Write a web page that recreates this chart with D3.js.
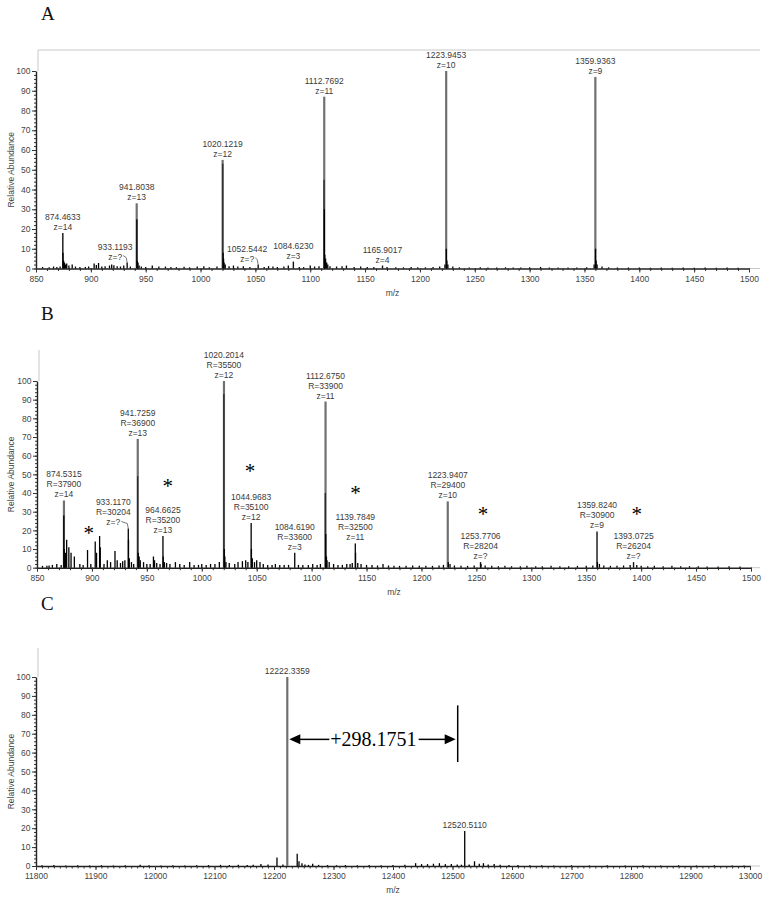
<!DOCTYPE html>
<html>
<head>
<meta charset="utf-8">
<script src="https://cdn.jsdelivr.net/npm/d3@7"></script>
<style>
  body { margin: 0; background: #fff; }
</style>
</head>
<body>
<div id="chart"></div>
<script>
// ---- data ----

// Panel A: labelled peaks
const apexMzA  = [874.4633, 933.1193, 941.8038, 1020.1219, 1052.5442, 1084.6230, 1112.7692, 1165.9017, 1223.9453, 1359.9363];
const apexIntA = [18, 3, 33, 55, 2, 3.5, 87, 1.5, 100, 97];
const apexTextA = [
  ["874.4633", "z=14"], ["933.1193", "z=?"], ["941.8038", "z=13"], ["1020.1219", "z=12"],
  ["1052.5442", "z=?"], ["1084.6230", "z=3"], ["1112.7692", "z=11"], ["1165.9017", "z=4"],
  ["1223.9453", "z=10"], ["1359.9363", "z=9"]
];
// Panel A: isotope clusters and baseline peaks
const minorMzA = [874.6, 875.2, 876, 877, 941.95, 942.4, 943, 944, 1020.25, 1020.6, 1021, 1021.5, 1022.5,
  1112.6, 1112.9, 1113.3, 1114, 1115, 1116, 1224.1, 1224.6, 1225.5, 1222.8, 1360.1, 1360.6, 1361.5, 1358.8,
  856, 862, 866, 869, 872, 878, 880, 883, 886, 890, 895, 898, 903, 905, 907, 910, 913, 917, 919, 921, 924, 927, 930,
  936, 946, 950, 956, 962, 968, 973, 978, 985, 990, 997, 1003, 1008, 1015, 1026, 1030, 1034, 1039, 1045, 1058,
  1062, 1066, 1070, 1076, 1080, 1090, 1094, 1100, 1104, 1108, 1118, 1124, 1129, 1133, 1140, 1146, 1152, 1158,
  1170, 1178, 1185, 1192, 1198, 1205, 1212, 1218, 1230, 1236, 1245, 1255, 1262, 1270, 1278, 1285, 1292, 1300,
  1310, 1318, 1326, 1335, 1343, 1352, 1366, 1372, 1380, 1390, 1400, 1410, 1420, 1430, 1440, 1450, 1460, 1470, 1480, 1490];
const minorIntA = [8, 4, 3, 2, 25, 4, 3, 1.5, 53, 8, 5, 3, 2,
  45, 30, 7, 5, 3, 2, 10, 4, 2, 2, 10, 4, 2, 2,
  0.8, 0.6, 1, 0.7, 1, 2.5, 1.5, 2, 1, 0.7, 0.8, 1, 2.5, 1.8, 2.8, 1, 1.2, 1.5, 2, 1.6, 1.2, 1, 1.5,
  1, 1, 0.8, 1.5, 1, 1, 0.8, 0.7, 0.9, 0.6, 1, 1.2, 0.6, 1, 1.2, 1.5, 1, 1.2, 0.8, 0.7,
  1.2, 1, 0.8, 1, 1.5, 0.8, 0.7, 1.5, 1, 1.2, 1.2, 1, 1.2, 1.5, 0.8, 1, 0.8, 0.7,
  0.8, 0.6, 0.6, 0.8, 0.6, 0.6, 0.7, 1, 1, 0.6, 0.5, 0.6, 0.5, 0.5, 0.6, 0.5, 0.5, 0.6,
  0.8, 0.5, 0.5, 0.5, 0.5, 0.6, 1, 0.6, 0.5, 0.5, 0.5, 0.4, 0.5, 0.4, 0.5, 0.4, 0.5, 0.4, 0.5, 0.4];

// Panel B: labelled peaks
const apexMzB  = [874.5315, 933.1170, 941.7259, 964.6625, 1020.2014, 1044.9683, 1084.6190, 1112.6750, 1139.7849, 1223.9407, 1253.7706, 1359.8240, 1393.0725];
const apexIntB = [36, 21, 69, 17, 100, 24, 8, 89, 13, 35.5, 3, 19.4, 3];
const apexTextB = [
  ["874.5315", "R=37900", "z=14"], ["933.1170", "R=30204", "z=?"], ["941.7259", "R=36900", "z=13"],
  ["964.6625", "R=35200", "z=13"], ["1020.2014", "R=35500", "z=12"], ["1044.9683", "R=35100", "z=12"],
  ["1084.6190", "R=33600", "z=3"], ["1112.6750", "R=33900", "z=11"], ["1139.7849", "R=32500", "z=11"],
  ["1223.9407", "R=29400", "z=10"], ["1253.7706", "R=28204", "z=?"], ["1359.8240", "R=30900", "z=9"],
  ["1393.0725", "R=26204", "z=?"]
];
const minorMzB = [874.4, 874.8, 875.3, 876, 877, 879, 881, 884, 855, 859, 861, 864, 868, 872, 889, 892, 896, 899,
  903, 904.2, 907, 907.6, 911, 914, 917, 921, 923, 926, 928, 930, 933.3, 934, 936, 938, 941.6, 942.2, 943, 944,
  947, 950, 953, 956, 957, 959, 962, 964.9, 966, 968, 971, 976, 980, 984, 989, 993, 997, 1000, 1004, 1008, 1012,
  1016, 1020.1, 1020.5, 1021, 1022, 1025, 1030, 1033, 1037, 1040, 1042, 1045.2, 1046, 1048, 1050, 1053, 1056,
  1060, 1064, 1067, 1071, 1075, 1079, 1088, 1092, 1097, 1101, 1105, 1108, 1112.5, 1112.9, 1113.5, 1114, 1116,
  1120, 1124, 1128, 1132, 1135, 1137, 1140, 1142, 1145, 1150, 1155, 1160, 1165, 1170, 1175, 1180, 1186, 1192,
  1198, 1204, 1210, 1216, 1220, 1224.4, 1226, 1230, 1236, 1242, 1248, 1254.2, 1258, 1264, 1270, 1276, 1282,
  1290, 1296, 1304, 1310, 1318, 1326, 1334, 1342, 1350, 1356, 1360.2, 1362, 1366, 1372, 1378, 1384, 1390,
  1396, 1400, 1406, 1412, 1420, 1428, 1436, 1444, 1452, 1460, 1470, 1480, 1490];
const minorIntB = [28, 10, 6, 8, 15, 11, 8, 6, 1, 1, 1.2, 1.5, 2, 1.5, 2, 1.5, 9.5, 2,
  14, 8, 17, 11, 2, 4, 3, 9, 4, 2.5, 3.5, 4, 15, 5, 3, 2, 49, 8, 6, 4,
  3, 2, 2, 6, 4, 2.5, 2, 6, 3, 2.5, 2, 3, 2, 1.5, 3, 1.5, 1.5, 2, 1.5, 2, 2,
  3, 93, 10, 6, 3, 2.5, 2, 3, 3.5, 4, 3, 10, 5, 3, 4, 3, 2,
  1.5, 1.5, 2, 1.5, 1.5, 1.5, 1.5, 1.5, 1.5, 2, 1.5, 2, 40, 18, 6, 4, 3,
  2, 1.5, 1.5, 2, 2, 2.5, 8, 2.5, 2, 1.5, 1.5, 1.2, 2, 1.2, 1, 1, 1, 1.2,
  1, 1, 1, 1.2, 1.5, 3, 2, 1.2, 1, 1, 1.2, 2, 1.2, 1, 0.8, 1, 0.8,
  0.8, 1, 0.8, 0.8, 1, 0.8, 0.8, 1, 1, 1.2, 3, 2, 1.2, 1, 1, 1.2, 1.5,
  1.5, 1, 0.8, 1, 0.8, 1, 0.8, 0.8, 0.8, 0.6, 0.6, 0.8, 0.6];
// asterisks in panel B (m/z, abundance)
const starMzB  = [897, 969, 1044, 1140, 1256, 1396];
const starIntB = [20, 45.4, 53.4, 41.6, 30.4, 30.4];

// Panel C: deconvoluted masses
const apexMzC  = [12222.3359, 12520.5110];
const apexIntC = [100, 18.5];
const apexTextC = [["12222.3359"], ["12520.5110"]];
const minorMzC = [11810, 11830, 11850, 11870, 11890, 11910, 11930, 11950, 11975, 11990, 12010, 12030, 12050,
  12070, 12090, 12110, 12125, 12140, 12155, 12165, 12178, 12190, 12205, 12215, 12239, 12242, 12247, 12252,
  12258, 12265, 12275, 12290, 12305, 12320, 12340, 12360, 12380, 12400, 12420, 12438, 12448, 12458, 12468,
  12478, 12488, 12498, 12508, 12515, 12528, 12537, 12545, 12552, 12560, 12570, 12580, 12595, 12610, 12630,
  12650, 12670, 12700, 12730, 12760, 12790, 12820, 12850, 12880, 12910, 12940, 12970, 12990];
const minorIntC = [0.4, 0.5, 0.3, 0.4, 0.3, 0.4, 0.3, 0.4, 0.6, 0.4, 0.3, 0.4, 0.3,
  0.4, 0.5, 0.6, 0.5, 0.6, 0.5, 0.7, 1, 0.8, 4.5, 0.8, 6.5, 2.5, 1.5, 0.8,
  0.6, 1.2, 0.6, 0.5, 0.4, 0.5, 0.4, 0.5, 0.4, 0.5, 0.6, 1.5, 1, 1, 1.2,
  1.5, 1, 1, 0.8, 0.7, 0.8, 2.5, 1.2, 1.5, 0.8, 1, 0.6, 0.5, 0.5, 0.4,
  0.4, 0.3, 0.4, 0.3, 0.4, 0.3, 0.4, 0.3, 0.4, 0.3, 0.4, 0.3, 0.3];
// mass shift annotation
const shiftText = "+298.1751";
const shiftFrom = 12222.3359, shiftTo = 12520.5110, shiftAt = 67;

const width = 766, height = 897;
const sans = "'Liberation Sans', Arial, sans-serif";
const serif = "'Liberation Serif', 'Times New Roman', serif";

const svg = d3.select("#chart")
              .append("svg")
              .attr("width", width)
              .attr("height", height)
              .style("font-family", sans);

svg.append("rect").attr("width", width).attr("height", height).attr("fill", "#fff");

const panels = [
  { letter: "A", letterY: 20, frameTop: 50, topLine: true, x0: 36, x1: 749, yBase: 268.5, yTop: 71,
    domain: [850, 1500], major: 50, minor: 10,
    apexMz: apexMzA, apexInt: apexIntA, apexText: apexTextA, minorMz: minorMzA, minorInt: minorIntA,
    leaders: { 1: -12, 4: -11 } },
  { letter: "B", letterY: 320, frameTop: 350, topLine: false, x0: 37, x1: 751, yBase: 567.7, yTop: 381,
    domain: [850, 1500], major: 50, minor: 10,
    apexMz: apexMzB, apexInt: apexIntB, apexText: apexTextB, minorMz: minorMzB, minorInt: minorIntB,
    leaders: { 1: -15 } },
  { letter: "C", letterY: 610, frameTop: 648, topLine: false, x0: 36, x1: 750, yBase: 866, yTop: 677,
    domain: [11800, 13000], major: 100, minor: 10,
    apexMz: apexMzC, apexInt: apexIntC, apexText: apexTextC, minorMz: minorMzC, minorInt: minorIntC,
    leaders: {} }
];

panels.forEach((p) => {
  const g = svg.append("g");

  let xScale = d3.scaleLinear().domain(p.domain).range([p.x0, p.x1]);
  let yScale = d3.scaleLinear().domain([0, 100]).range([p.yBase, p.yTop]);

  // panel letter
  g.append("text")
    .attr("x", 41).attr("y", p.letterY)
    .style("font-family", serif)
    .attr("font-size", 19)
    .attr("fill", "#111")
    .text(p.letter);

  // light frame
  g.append("line")
    .attr("x1", p.x0 + 2).attr("x2", p.x0 + 2)
    .attr("y1", p.frameTop).attr("y2", p.yTop)
    .attr("stroke", "#c8c8c8").attr("stroke-width", 1);
  if (p.topLine) {
    g.append("line")
      .attr("x1", p.x0 + 2).attr("x2", 760)
      .attr("y1", p.frameTop).attr("y2", p.frameTop)
      .attr("stroke", "#c8c8c8").attr("stroke-width", 1);
  }
  g.append("line")
    .attr("x1", p.x1).attr("x2", 760)
    .attr("y1", p.yBase).attr("y2", p.yBase)
    .attr("stroke", "#c8c8c8").attr("stroke-width", 1);

  // minor ticks
  g.append("g")
    .attr("transform", `translate(${p.x0},0)`)
    .call(d3.axisLeft(yScale).tickValues(d3.range(0, 101, 2)).tickSize(2).tickSizeOuter(0).tickFormat(""))
    .call(a => a.select(".domain").remove())
    .selectAll("line").attr("stroke", "#333");
  g.append("g")
    .attr("transform", `translate(0,${p.yBase})`)
    .call(d3.axisBottom(xScale).tickValues(d3.range(p.domain[0], p.domain[1] + 1, p.minor)).tickSize(2.5).tickSizeOuter(0).tickFormat(""))
    .call(a => a.select(".domain").remove())
    .selectAll("line").attr("stroke", "#333");

  // major axes
  const yAxis = g.append("g")
    .attr("transform", `translate(${p.x0},0)`)
    .call(d3.axisLeft(yScale).tickValues(d3.range(0, 101, 10)).tickSize(4).tickSizeOuter(0).tickPadding(1.5));
  const xAxis = g.append("g")
    .attr("transform", `translate(0,${p.yBase})`)
    .call(d3.axisBottom(xScale).tickValues(d3.range(p.domain[0], p.domain[1] + 1, p.major)).tickSize(4).tickSizeOuter(0).tickPadding(3).tickFormat(d3.format("d")));
  [yAxis, xAxis].forEach(a => {
    a.attr("font-family", null);
    a.selectAll("text").attr("font-size", 8.5).attr("fill", "#444");
    a.selectAll("line").attr("stroke", "#333");
    a.select(".domain").attr("stroke", "#222").attr("stroke-width", 1.4);
  });

  // axis titles
  g.append("text")
    .attr("transform", `translate(14,${(p.yBase + p.yTop) / 2}) rotate(-90)`)
    .attr("text-anchor", "middle")
    .attr("font-size", 8.5).attr("fill", "#444")
    .text("Relative Abundance");
  g.append("text")
    .attr("x", (p.x0 + p.x1) / 2).attr("y", p.yBase + 27)
    .attr("text-anchor", "middle")
    .attr("font-size", 8.5).attr("fill", "#444")
    .text("m/z");

  // labelled peaks, drawn first so the isotope cluster sits on top
  g.selectAll("line.apex")
    .data(p.apexMz.map((m, i) => ({ mz: m, v: p.apexInt[i] })))
    .enter()
    .append("line")
    .attr("class", "apex")
    .attr("x1", d => xScale(d.mz)).attr("x2", d => xScale(d.mz))
    .attr("y1", yScale(0)).attr("y2", d => yScale(d.v))
    .attr("stroke", d => d.v > 30 ? "#707070" : "#111")
    .attr("stroke-width", d => d.v > 30 ? 2.2 : 1.4);

  g.selectAll("line.minor")
    .data(p.minorMz.map((m, i) => ({ mz: m, v: p.minorInt[i] })))
    .enter()
    .append("line")
    .attr("class", "minor")
    .attr("x1", d => xScale(d.mz)).attr("x2", d => xScale(d.mz))
    .attr("y1", yScale(0)).attr("y2", d => yScale(d.v))
    .attr("stroke", d => d.v > 30 ? "#2a2a2a" : "#000")
    .attr("stroke-width", 1.3);

  // peak labels
  p.apexMz.forEach((m, i) => {
    const lines = p.apexText[i];
    const px = xScale(m), top = yScale(p.apexInt[i]);
    const dx = p.leaders[i] || 0;
    const lx = px + dx, lastBase = top - 3;
    lines.forEach((t, k) => {
      g.append("text")
        .attr("x", lx).attr("y", lastBase - (lines.length - 1 - k) * 10)
        .attr("text-anchor", "middle")
        .attr("font-size", 8.5).attr("fill", "#3a3a3a")
        .text(t);
    });
    if (dx !== 0) {
      g.append("polyline")
        .attr("points", `${lx + 8},${lastBase - 4} ${px - 1},${lastBase - 2} ${px},${top}`)
        .attr("fill", "none").attr("stroke", "#555").attr("stroke-width", 0.8);
    }
  });

  // asterisks in B
  if (p.letter === "B") {
    g.selectAll("text.star")
      .data(starMzB.map((m, i) => ({ mz: m, v: starIntB[i] })))
      .enter()
      .append("text")
      .attr("class", "star")
      .attr("x", d => xScale(d.mz)).attr("y", d => yScale(d.v) + 10)
      .attr("text-anchor", "middle")
      .style("font-family", serif)
      .attr("font-size", 21).attr("fill", "#000")
      .text("*");
  }

  // mass shift annotation in C
  if (p.letter === "C") {
    const ay = yScale(shiftAt);
    const xa = xScale(shiftFrom) + 2, xb = xScale(shiftTo) - 9;
    const txt = g.append("text")
      .attr("x", (xa + xb) / 2 + 1).attr("y", ay + 7)
      .attr("text-anchor", "middle")
      .style("font-family", serif)
      .attr("font-size", 20).attr("fill", "#000")
      .text(shiftText);
    const bb = txt.node().getBBox();
    g.append("line").attr("x1", xa + 10).attr("x2", bb.x - 1).attr("y1", ay).attr("y2", ay)
      .attr("stroke", "#000").attr("stroke-width", 1.5);
    g.append("line").attr("x1", bb.x + bb.width + 2).attr("x2", xb - 8).attr("y1", ay).attr("y2", ay)
      .attr("stroke", "#000").attr("stroke-width", 1.5);
    g.append("path").attr("d", `M${xa},${ay} L${xa + 11},${ay - 5} L${xa + 11},${ay + 5} Z`).attr("fill", "#000");
    g.append("path").attr("d", `M${xb},${ay} L${xb - 11},${ay - 5} L${xb - 11},${ay + 5} Z`).attr("fill", "#000");
    g.append("line").attr("x1", xb + 2).attr("x2", xb + 2)
      .attr("y1", yScale(85)).attr("y2", yScale(55))
      .attr("stroke", "#000").attr("stroke-width", 1.5);
  }
});
</script>
</body>
</html>
